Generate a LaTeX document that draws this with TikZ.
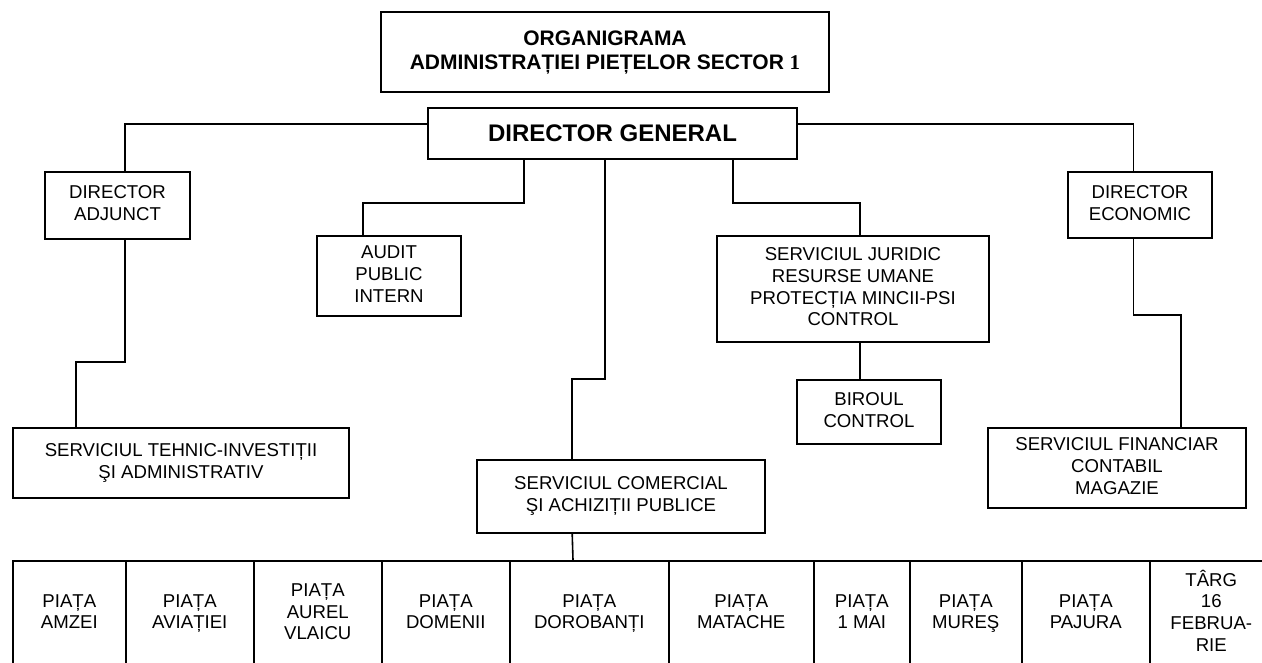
\documentclass[tikz,border=0pt]{standalone}
\usepackage{fontspec}
\setmainfont{Liberation Sans}
\newfontfamily\serifone{Liberation Serif}

\begin{document}
\begin{tikzpicture}[x=1pt, y=-1pt,
    box/.style={draw, line width=1.6pt, align=center, inner sep=0pt, font=\fontsize{18.6}{21.7}\selectfont},
    cell/.style={box, minimum height=106pt, anchor=north west},
    link/.style={line width=1.6pt}]
    \clip (0,0) rectangle (1262,662);

    \node[box, minimum width=448pt, minimum height=80pt, font=\fontsize{21}{24}\selectfont\bfseries] (title) at (605,52)
        {ORGANIGRAMA\\ADMINISTRAȚIEI PIEȚELOR SECTOR {\serifone\bfseries 1}};
    \node[box, minimum width=369pt, minimum height=51pt, font=\fontsize{24}{28}\selectfont\bfseries] (dg) at (612.5,133.5) {DIRECTOR GENERAL};
    \node[box, minimum width=145pt, minimum height=67pt] (da) at (117.5,205.5) {\strut DIRECTOR\\ADJUNCT\strut};
    \node[box, minimum width=144pt, minimum height=66pt] (de) at (1140,205) {\strut DIRECTOR\\ECONOMIC\strut};
    \node[box, minimum width=144pt, minimum height=80pt] (audit) at (389,276) {\strut AUDIT\\PUBLIC\\INTERN\strut};
    \node[box, minimum width=272pt, minimum height=106pt] (juridic) at (853,289)
        {\strut SERVICIUL JURIDIC\\RESURSE UMANE\\PROTECȚIA MINCII-PSI\\CONTROL\strut};
    \node[box, minimum width=144pt, minimum height=64pt] (biroul) at (869,412) {\strut BIROUL\\CONTROL\strut};
    \node[box, minimum width=336pt, minimum height=70pt] (tehnic) at (181,463) {\strut SERVICIUL TEHNIC-INVESTIȚII\\ŞI ADMINISTRATIV\strut};
    \node[box, minimum width=258pt, minimum height=80pt] (financiar) at (1117,468) {\strut SERVICIUL FINANCIAR\\CONTABIL\\MAGAZIE\strut};
    \node[box, minimum width=288pt, minimum height=73pt] (comercial) at (621,496.5) {\strut SERVICIUL COMERCIAL\\ŞI ACHIZIȚII PUBLICE\strut};

    \foreach \x/\w/\t [count=\i] in {12/113/{PIAȚA\\AMZEI}, 125/128/{PIAȚA\\AVIAȚIEI}, 253/128/{PIAȚA\\AUREL\\VLAICU},
        381/128/{PIAȚA\\DOMENII}, 509/159/{PIAȚA\\DOROBANȚI}, 668/145/{PIAȚA\\MATACHE}, 813/96/{PIAȚA\\1 MAI},
        909/112/{PIAȚA\\MUREŞ}, 1021/128/{PIAȚA\\PAJURA}, 1149/123/{TÂRG\\16\\FEBRUA-\\RIE}}
        \node[cell, minimum width=\w pt] (piata\i) at (\x,560) {\strut\t\strut};

    \draw[link] ([yshift=9.5pt]dg.west) -| ([xshift=7.5pt]da.north);
    \draw[link] ([yshift=9.5pt]dg.east) -| ([xshift=-6.5pt]de.north);
    \draw[link] ([xshift=7.5pt]da.south) |- ([xshift=64pt,yshift=65pt]tehnic.north west) -- ([xshift=64pt]tehnic.north west);
    \draw[link] ([xshift=-88.5pt]dg.south) |- ([xshift=47pt,yshift=32pt]audit.north west) -- ([xshift=47pt]audit.north west);
    \draw[link] ([xshift=-7.5pt]dg.south) |- ([xshift=96pt,yshift=80pt]comercial.north west) -- ([xshift=96pt]comercial.north west);
    \draw[link] ([xshift=120.5pt]dg.south) |- ([xshift=144pt,yshift=32pt]juridic.north west) -- ([xshift=144pt]juridic.north west);
    \draw[link] ([xshift=144pt]juridic.south west) -- ([xshift=64pt]biroul.north west);
    \draw[link] ([xshift=-6.5pt]de.south) |- ([xshift=194pt,yshift=112pt]financiar.north west) -- ([xshift=194pt]financiar.north west);
    \draw[link] ([xshift=96pt]comercial.south west) -- ([xshift=64pt]piata5.north west);
\end{tikzpicture}
\end{document}
